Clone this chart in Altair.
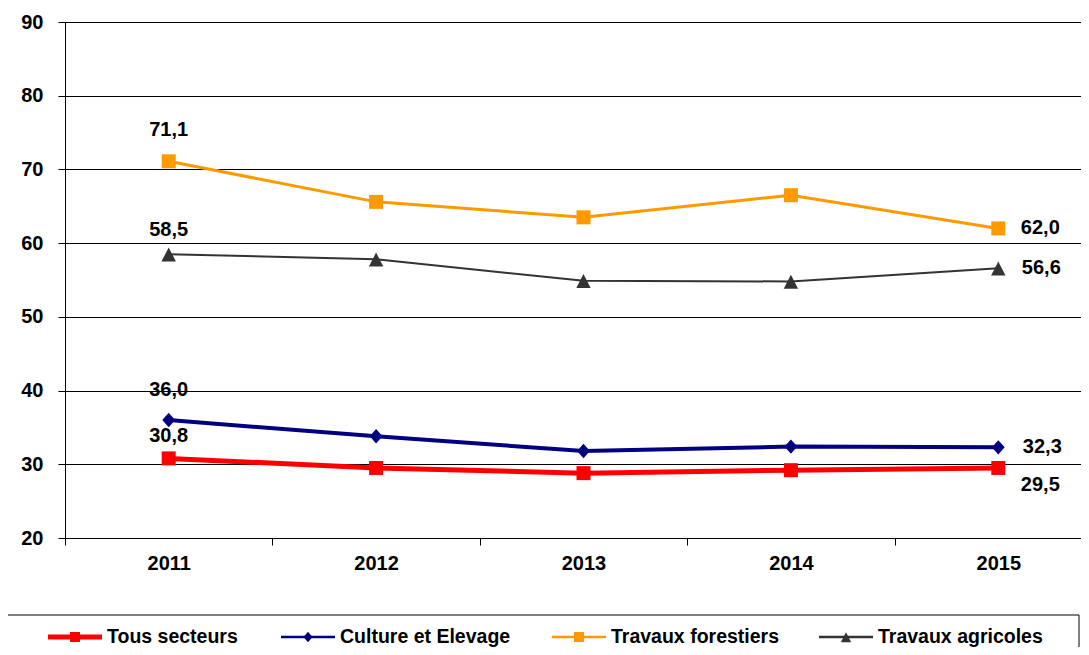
import altair as alt
import pandas as pd

years = ["2011", "2012", "2013", "2014", "2015"]
series = ["Tous secteurs", "Culture et Elevage", "Travaux forestiers", "Travaux agricoles"]
tous_secteurs = [30.8, 29.5, 28.8, 29.2, 29.5]
culture_elevage = [36.0, 33.8, 31.8, 32.4, 32.3]
travaux_forestiers = [71.1, 65.6, 63.5, 66.5, 62.0]
travaux_agricoles = [58.5, 57.8, 54.9, 54.8, 56.6]
y_ticks = [20, 30, 40, 50, 60, 70, 80, 90]

colors = ["#FF0000", "#000080", "#FF9900", "#333333"]
line_widths = [5, 2, 2.5, 2.5]
legend_line_widths = [5, 2.5, 2.5, 2.5]
legend_centers = [10, 243, 514, 781]  # legend symbol centres (px from plot left)
LEGEND_Y = 615

rows = []
for name, vals in zip(series, [tous_secteurs, culture_elevage, travaux_forestiers, travaux_agricoles]):
    for yr, v in zip(years, vals):
        rows.append({"year": yr, "series": name, "value": v})
df = pd.DataFrame(rows)

FONT = "Liberation Sans"

# marker paths (unit square coords)
marker_paths = [
    "M-0.875,-0.875L0.875,-0.875L0.875,0.875L-0.875,0.875Z",
    "M0,-0.9L0.8,0L0,0.9L-0.8,0Z",
    "M-0.875,-0.875L0.875,-0.875L0.875,0.875L-0.875,0.875Z",
    "M0,-0.85L0.9,0.9L-0.9,0.9Z",
]

x_enc = alt.X(
    "year:O",
    scale=alt.Scale(type="band", domain=years, range=[0, 1037], paddingInner=0, paddingOuter=0),
    axis=alt.Axis(
        title=None, labelAngle=0, tickBand="extent", ticks=True, tickSize=7,
        tickColor="black", domainColor="black", labelFont=FONT, labelFontSize=20,
        labelFontWeight="bold", labelColor="black", labelPadding=8, grid=False,
    ),
)
y_enc = alt.Y(
    "value:Q",
    scale=alt.Scale(domain=[20, 90], nice=False, zero=False),
    axis=alt.Axis(
        title=None, values=y_ticks, grid=True, gridColor="black", gridWidth=1,
        tickSize=7, tickColor="black", domainColor="black", labelFont=FONT,
        labelFontSize=20, labelFontWeight="bold", labelColor="black", labelPadding=15,
    ),
)
color_scale = alt.Scale(domain=series, range=colors)

base = alt.Chart(df)

lines = base.mark_line(opacity=1).encode(
    x=x_enc, y=y_enc,
    color=alt.Color("series:N", scale=color_scale, legend=None),
    strokeWidth=alt.StrokeWidth("series:N", scale=alt.Scale(domain=series, range=line_widths), legend=None),
    detail="series:N",
)

point_layers = []
for name, col, path in zip(series, colors, marker_paths):
    point_layers.append(
        base.transform_filter(alt.datum.series == name).mark_point(
            filled=True, opacity=1, size=256, strokeWidth=0, shape=path, fill=col, color=col
        ).encode(x=x_enc, y=y_enc)
    )

# legend (drawn as decoration below the plot)
legend_layers = []
for name, col, path, cx, lw in zip(series, colors, marker_paths, legend_centers, legend_line_widths):
    item = base.transform_filter((alt.datum.series == name) & (alt.datum.year == years[0]))
    legend_layers.append(
        item.mark_rule(color=col, strokeWidth=lw).encode(
            x=alt.value(cx - 27), x2=alt.value(cx + 27), y=alt.value(LEGEND_Y)
        )
    )
    legend_layers.append(
        item.mark_point(filled=True, opacity=1, size=130, strokeWidth=0, shape=path, fill=col).encode(
            x=alt.value(cx), y=alt.value(LEGEND_Y)
        )
    )
    legend_layers.append(
        item.mark_text(
            font=FONT, fontSize=19.5, fontWeight="bold", color="black",
            align="left", baseline="middle",
        ).encode(x=alt.value(cx + 32), y=alt.value(LEGEND_Y), text="series:N")
    )

label_offsets = {
    "Tous secteurs": ((0, -22), (42, 17)),
    "Culture et Elevage": ((0, -30), (44, 0)),
    "Travaux forestiers": ((0, -31), (42, 0)),
    "Travaux agricoles": ((0, -24), (43, 0)),
}
text_layers = []
for name in series:
    for (yr, (dx, dy)) in zip([years[0], years[-1]], label_offsets[name]):
        t = base.transform_filter(
            (alt.datum.series == name) & (alt.datum.year == yr)
        ).transform_calculate(
            label="replace(format(datum.value, '.1f'), '.', ',')"
        ).mark_text(
            font=FONT, fontSize=20, fontWeight="bold", color="black",
            dx=dx, dy=dy, align="center", baseline="middle",
        ).encode(x=x_enc, y=y_enc, text="label:N")
        text_layers.append(t)

legend_box = alt.Chart(alt.Data(values=[{"a": 1}])).mark_rect(
    fillOpacity=0, stroke="black", strokeWidth=1
).encode(
    x=alt.value(-58), x2=alt.value(1014), y=alt.value(593), y2=alt.value(660)
)

chart = alt.layer(
    legend_box, lines, *point_layers, *legend_layers, *text_layers
).properties(
    width=1016, height=516,
    padding={"left": 57, "top": 14, "right": 0, "bottom": 109},
    autosize=alt.AutoSizeParams(type="none"),
).configure_view(stroke=None).configure(background="white")

chart.save("out.html", embed_options={"renderer": "svg", "actions": False})
